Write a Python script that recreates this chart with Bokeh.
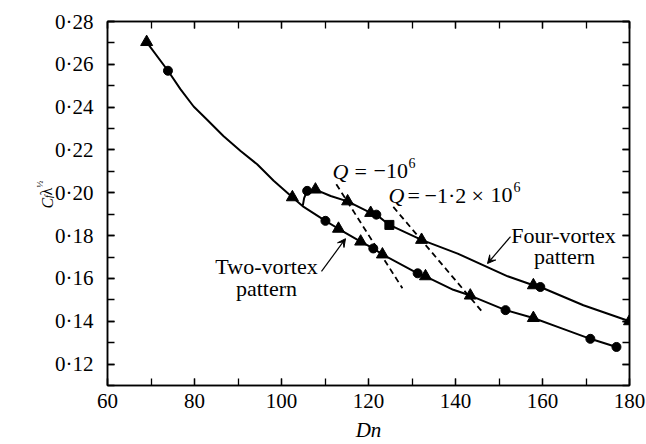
import math
from bokeh.plotting import figure
from bokeh.models import (LinearAxis, SingleIntervalTicker, CustomJSTickFormatter,
                          Label, Arrow, VeeHead, Title)
from bokeh.embed import file_html
from bokeh.resources import INLINE

# ---- data ----
two_tri_dn = [69.0, 102.5, 113.1, 118.2, 123.2, 133.1, 143.4, 157.9]
two_tri_cf = [0.2704, 0.1979, 0.1832, 0.1772, 0.1712, 0.1610, 0.1520, 0.1415]
two_circ_dn = [73.9, 110.1, 121.1, 131.3, 151.5, 171.0, 177.0]
two_circ_cf = [0.2570, 0.1869, 0.1740, 0.1624, 0.1452, 0.1318, 0.1280]

four_tri_dn = [107.8, 115.2, 120.5, 132.2, 157.9, 180.0]
four_tri_cf = [0.2015, 0.1960, 0.1906, 0.1780, 0.1568, 0.1400]
four_circ_dn = [105.9, 121.8, 159.5]
four_circ_cf = [0.2009, 0.1898, 0.1560]
four_sq_dn = [124.8]
four_sq_cf = [0.1850]

# curves
lower_curve_dn = [69.0, 73.9, 76.8, 79.8, 82.9, 86.7, 90.6, 94.4, 98.2, 102.5, 105.1, 110.1,
                  113.1, 118.2, 121.1, 123.2, 131.3, 133.1, 139.5, 143.4, 151.5, 157.9,
                  164.1, 171.0, 177.0]
lower_curve_cf = [0.2704, 0.2570, 0.2483, 0.2403, 0.2341, 0.2264, 0.2195, 0.2133, 0.2056, 0.1979,
                  0.1934, 0.1869, 0.1832, 0.1772, 0.1740, 0.1712, 0.1624, 0.1610, 0.1547, 0.1520,
                  0.1452, 0.1415, 0.1369, 0.1318, 0.1280]
upper_curve_dn = [104.9, 105.2, 105.9, 107.8, 111.3, 115.2, 120.5, 121.8, 124.8, 132.2,
                  140.5, 152.0, 157.9, 159.5, 169.4, 180.0]
upper_curve_cf = [0.1940, 0.1975, 0.2009, 0.2015, 0.1985, 0.1960, 0.1906, 0.1898, 0.1850, 0.1780,
                  0.1716, 0.1610, 0.1568, 0.1560, 0.1475, 0.1400]

q1_dn = [112.6, 127.8]
q1_cf = [0.2040, 0.1554]
q2_dn = [125.7, 146.4]
q2_cf = [0.1934, 0.1438]

FONT = "Liberation Serif"
W, H = 646, 444
FL, FT, FB = 107, 21, 388  # frame left / top / bottom on the canvas

p = figure(width=W, height=H, x_range=(60, 180), y_range=(0.11, 0.28),
           output_backend="svg", toolbar_location=None,
           min_border_left=FL, min_border_right=17, min_border_top=FT, min_border_bottom=H - FB,
           x_axis_location=None, y_axis_location=None)
p.grid.visible = False
p.outline_line_color = "black"
p.outline_line_width = 1.5
p.background_fill_color = "white"
p.border_fill_color = "white"


def style_axis(ax, show_labels):
    ax.axis_line_width = 1.5
    ax.axis_line_color = "black"
    ax.major_tick_in = 7
    ax.major_tick_out = 0
    ax.minor_tick_in = 7
    ax.minor_tick_out = 0
    ax.major_tick_line_width = 1.3
    ax.minor_tick_line_width = 1.3
    ax.major_label_text_font = FONT
    ax.major_label_text_color = "black"
    ax.major_label_text_font_size = "21px" if show_labels else "0px"
    if not show_labels:
        ax.major_label_standoff = 0


xt = SingleIntervalTicker(interval=20, num_minor_ticks=2)
yt = SingleIntervalTicker(interval=0.02, num_minor_ticks=2)
yfmt = CustomJSTickFormatter(code="return tick.toFixed(2).replace('.', '\u00b7');")

xb = LinearAxis(ticker=xt)
style_axis(xb, True)
xb.major_label_standoff = 8
xb.axis_label = "Dn"
xb.axis_label_text_font = FONT
xb.axis_label_text_font_style = "italic"
xb.axis_label_text_font_size = "21px"
xb.axis_label_text_color = "black"
xb.axis_label_standoff = 7
p.add_layout(xb, "below")
xa = LinearAxis(ticker=xt)
style_axis(xa, False)
p.add_layout(xa, "above")
yl = LinearAxis(ticker=yt, formatter=yfmt)
style_axis(yl, True)
yl.major_label_standoff = 14
p.add_layout(yl, "left")
yr = LinearAxis(ticker=yt, formatter=yfmt)
style_axis(yr, False)
p.add_layout(yr, "right")


# y axis title C_f lambda^(1/2), built from side-panel titles (stacked outward);
# offset is measured upward from the frame bottom, text reads bottom to top
def ytitle(text, size, style, valign, offset, standoff):
    p.add_layout(Title(text=text, text_font=FONT, text_font_size=size, text_font_style=style,
                       align="left", vertical_align=valign, offset=offset,
                       standoff=standoff, text_color="black"), "left")


ytitle("f", "10px", "italic", "top", 187.5, -8.1)
ytitle("C", "16px", "italic", "middle", 177, -19.7)
ytitle("\u03bb", "16px", "normal", "middle", 190, -16.7)
ytitle("\u00bd", "9px", "normal", "middle", 198, 0)

# curves
p.line(lower_curve_dn, lower_curve_cf, line_color="black", line_width=2)
p.line(upper_curve_dn, upper_curve_cf, line_color="black", line_width=2)
p.line(q1_dn, q1_cf, line_color="black", line_width=1.8, line_dash="6 4")
p.line(q2_dn, q2_cf, line_color="black", line_width=1.8, line_dash="6 4")

# markers
p.scatter(two_tri_dn, two_tri_cf, marker="triangle", size=12, color="black")
p.scatter(four_tri_dn, four_tri_cf, marker="triangle", size=12, color="black")
p.scatter(two_circ_dn, two_circ_cf, marker="circle", size=9, color="black")
p.scatter(four_circ_dn, four_circ_cf, marker="circle", size=9, color="black")
p.scatter(four_sq_dn, four_sq_cf, marker="square", size=9, color="black")


def px2dn(px):
    return 60 + (px - 107) / 4.35


def py2cf(py):
    return 0.28 - (py - 21) / 2159.0


def lab(px, py, text, size="22px", style="normal", align="left"):
    p.add_layout(Label(x=px2dn(px), y=py2cf(py), text=text, text_font=FONT,
                       text_font_size=size, text_font_style=style, text_align=align,
                       text_baseline="middle", text_color="black"))


# Q annotations
lab(332, 172, "Q", style="italic")
lab(354, 172, "=")
lab(373, 172, "\u221210")
lab(408, 164, "6", size="14px")
lab(388, 196, "Q", style="italic")
lab(407, 196, "=")
lab(424, 196, "\u22121\u00b72")
lab(471, 196, "\u00d7")
lab(490, 196, "10")
lab(513, 188, "6", size="14px")

# pattern labels
lab(563, 237, "Four-vortex", align="center")
lab(564, 258, "pattern", align="center")
lab(266, 268, "Two-vortex", align="center")
lab(266, 290, "pattern", align="center")

# leader arrows
p.add_layout(Arrow(end=VeeHead(size=8, fill_color="black", line_color="black"),
                   x_start=px2dn(510), y_start=py2cf(238), x_end=px2dn(487), y_end=py2cf(265),
                   line_width=1.2, line_color="black"))
p.add_layout(Arrow(end=VeeHead(size=8, fill_color="black", line_color="black"),
                   x_start=px2dn(321), y_start=py2cf(273), x_end=px2dn(345), y_end=py2cf(240),
                   line_width=1.2, line_color="black"))

open("out.html", "w").write(file_html(p, INLINE))
